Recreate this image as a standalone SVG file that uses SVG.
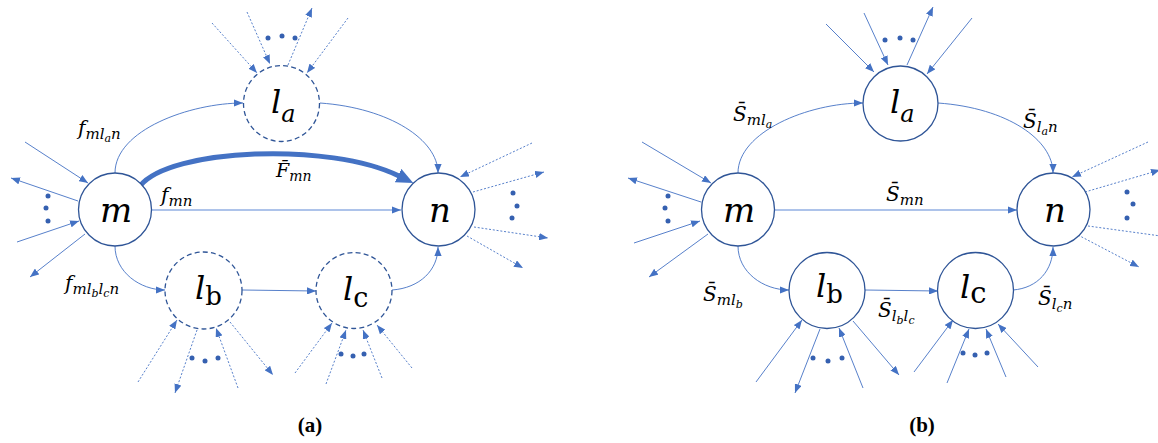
<svg xmlns="http://www.w3.org/2000/svg" width="1158" height="443" viewBox="0 0 1158 443">
<style>
.bg{fill:#fff}
.nc{fill:#fff;stroke:#2f5597;stroke-width:1.3}
.dc{fill:#fff;stroke:#2f5597;stroke-width:1.3;stroke-dasharray:5 3.2}
.c{fill:none;stroke:#4472c4;stroke-width:0.9;marker-end:url(#ah)}
.d{fill:none;stroke:#4472c4;stroke-width:0.9;stroke-dasharray:2 1.8;marker-end:url(#ah)}
.light{fill:none;stroke:#adc3ea;stroke-width:2;marker-end:url(#ah)}
.thick{fill:none;stroke:#4472c4;stroke-width:5;marker-end:url(#big)}
.m{font-family:"DejaVu Serif","Liberation Serif",serif;font-style:italic;fill:#000}
.r{font-style:normal}
.cap{font-family:"Liberation Serif",serif;font-weight:bold;font-size:21px;fill:#000;text-anchor:middle}
.dot{fill:#3560b0}
</style>
<defs>
<marker id="ah" viewBox="0 0 10 8" refX="10" refY="4" markerWidth="9" markerHeight="7.2" markerUnits="userSpaceOnUse" orient="auto"><path d="M0,0 L10,4 L0,8 z" fill="#4472c4"/></marker>
<marker id="big" viewBox="0 0 16 14" refX="1" refY="7" markerWidth="17" markerHeight="15" markerUnits="userSpaceOnUse" orient="auto"><path d="M0,0 L16,7 L0,14 z" fill="#4472c4"/></marker>
</defs>
<rect class="bg" width="1158" height="443"/>

<g id="connectors">
<path class="c" d="M115,173 C115,130 190,103 243,103"/>
<path class="c" d="M320,103 C390,108 438,140 438,173"/>
<path class="light" d="M152,210 L401,210"/>
<path class="thick" d="M140,186 C170,148 330,142 399,176"/>
<path class="c" d="M115,246 C115,272 140,290 165,290"/>
<path class="c" d="M242,290 L316,291"/>
<path class="c" d="M392,290 C420,288 438,270 438,247"/>
<path class="c" d="M25,142 L88,183"/>
<path class="c" d="M78,201 L11,178"/>
<path class="c" d="M17,242 L79,221"/>
<path class="c" d="M85,234 L30,277"/>
<path class="d" d="M212,23 L257,73"/>
<path class="d" d="M247,12 L270,64"/>
<path class="d" d="M288,65 L312,8"/>
<path class="d" d="M348,18 L307,73"/>
<path class="d" d="M532,143 L460,177"/>
<path class="d" d="M473,192 L544,172"/>
<path class="d" d="M474,227 L548,238"/>
<path class="d" d="M467,236 L523,268"/>
<path class="d" d="M138,382 L177,320"/>
<path class="d" d="M197,330 L175,393"/>
<path class="d" d="M238,388 L216,328"/>
<path class="d" d="M230,322 L273,375"/>
<path class="d" d="M295,373 L332,323"/>
<path class="d" d="M326,384 L346,330"/>
<path class="d" d="M382,378 L363,330"/>
<path class="d" d="M412,368 L377,325"/>
<path class="c" d="M738,173 C738,132 808,103 863,103"/>
<path class="c" d="M938,103 C1008,108 1053,140 1053,173"/>
<path class="light" d="M774,210 L1017,210"/>
<path class="c" d="M738,246 C738,272 763,290 789,290"/>
<path class="c" d="M865,290 L938,291"/>
<path class="c" d="M1013,290 C1038,288 1053,270 1053,247"/>
<path class="c" d="M642,142 L711,183"/>
<path class="c" d="M701,202 L628,178"/>
<path class="c" d="M634,243 L700,221"/>
<path class="c" d="M708,234 L649,277"/>
<path class="c" d="M826,24 L874,72"/>
<path class="c" d="M864,13 L888,65"/>
<path class="c" d="M907,65 L933,7"/>
<path class="c" d="M972,18 L927,74"/>
<path class="d" d="M1148,142 L1072,177"/>
<path class="d" d="M1085,192 L1160,170"/>
<path class="d" d="M1088,226 L1168,237"/>
<path class="d" d="M1078,235 L1139,267"/>
<path class="c" d="M756,382 L802,320"/>
<path class="c" d="M820,329 L795,393"/>
<path class="c" d="M863,388 L839,328"/>
<path class="c" d="M853,321 L899,375"/>
<path class="c" d="M914,372 L953,320"/>
<path class="c" d="M947,383 L969,329"/>
<path class="c" d="M1006,377 L986,329"/>
<path class="c" d="M1038,367 L998,324"/>
</g>

<g id="ellipses">
<circle class="dot" cx="48" cy="196" r="2.5"/><circle class="dot" cx="46" cy="208" r="2.5"/><circle class="dot" cx="48" cy="221" r="2.5"/>
<circle class="dot" cx="268" cy="38" r="2.5"/><circle class="dot" cx="282" cy="36" r="2.5"/><circle class="dot" cx="295" cy="38" r="2.5"/>
<circle class="dot" cx="513" cy="193" r="2.5"/><circle class="dot" cx="517" cy="206" r="2.5"/><circle class="dot" cx="512" cy="218" r="2.5"/>
<circle class="dot" cx="192" cy="358" r="2.5"/><circle class="dot" cx="205" cy="361" r="2.5"/><circle class="dot" cx="218" cy="358" r="2.5"/>
<circle class="dot" cx="341" cy="354" r="2.5"/><circle class="dot" cx="353" cy="356" r="2.5"/><circle class="dot" cx="364" cy="354" r="2.5"/>
<circle class="dot" cx="668" cy="196" r="2.5"/><circle class="dot" cx="665" cy="208" r="2.5"/><circle class="dot" cx="668" cy="221" r="2.5"/>
<circle class="dot" cx="885" cy="40" r="2.5"/><circle class="dot" cx="900" cy="38" r="2.5"/><circle class="dot" cx="913" cy="40" r="2.5"/>
<circle class="dot" cx="1127" cy="192" r="2.5"/><circle class="dot" cx="1133" cy="204" r="2.5"/><circle class="dot" cx="1127" cy="218" r="2.5"/>
<circle class="dot" cx="813" cy="358" r="2.5"/><circle class="dot" cx="828" cy="361" r="2.5"/><circle class="dot" cx="842" cy="358" r="2.5"/>
<circle class="dot" cx="963" cy="353" r="2.5"/><circle class="dot" cx="975" cy="355" r="2.5"/><circle class="dot" cx="987" cy="353" r="2.5"/>
</g>

<g id="a-m"><circle class="nc" cx="115" cy="209.5" r="36.5"/><text class="m" x="116" y="222" font-size="34" text-anchor="middle">m</text></g>
<g id="a-la"><circle class="dc" cx="281.5" cy="103.5" r="38"/><text class="m" x="271" y="113" font-size="32">l<tspan font-size="24" dy="9">a</tspan></text></g>
<g id="a-n"><circle class="nc" cx="438.5" cy="209.5" r="36.5"/><text class="m" x="440" y="222" font-size="34" text-anchor="middle">n</text></g>
<g id="a-lb"><circle class="dc" cx="203.5" cy="290.5" r="38.5"/><text class="m" x="195" y="299" font-size="32">l<tspan class="r" font-size="26" dy="6">b</tspan></text></g>
<g id="a-lc"><circle class="dc" cx="354" cy="290.5" r="38"/><text class="m" x="343" y="300" font-size="32">l<tspan class="r" font-size="27" dy="7">c</tspan></text></g>

<g id="a-labels">
<text class="m" x="78" y="135" font-size="20">f<tspan font-size="15" dy="4">ml</tspan><tspan font-size="11" dy="3">a</tspan><tspan font-size="15" dy="-3">n</tspan></text>
<text class="m" x="276" y="177" font-size="19">F&#x304;<tspan font-size="14" dy="4">mn</tspan></text>
<text class="m" x="161" y="202" font-size="20">f<tspan font-size="15" dy="4">mn</tspan></text>
<text class="m" x="65" y="290" font-size="20">f<tspan font-size="15" dy="4">ml</tspan><tspan font-size="11" dy="3">b</tspan><tspan font-size="15" dy="-3">l</tspan><tspan font-size="11" dy="3">c</tspan><tspan font-size="15" dy="-3">n</tspan></text>
</g>

<g id="b-m"><circle class="nc" cx="738" cy="209.5" r="36.5"/><text class="m" x="739" y="222" font-size="34" text-anchor="middle">m</text></g>
<g id="b-la"><circle class="nc" cx="900.5" cy="103.5" r="37.5"/><text class="m" x="890" y="113" font-size="32">l<tspan font-size="24" dy="9">a</tspan></text></g>
<g id="b-n"><circle class="nc" cx="1053.5" cy="209.5" r="36.5"/><text class="m" x="1055" y="222" font-size="34" text-anchor="middle">n</text></g>
<g id="b-lb"><circle class="nc" cx="827" cy="290.5" r="38"/><text class="m" x="816" y="297" font-size="32">l<tspan class="r" font-size="26" dy="6">b</tspan></text></g>
<g id="b-lc"><circle class="nc" cx="975.5" cy="290.5" r="38"/><text class="m" x="960" y="298" font-size="32">l<tspan class="r" font-size="29" dy="5">c</tspan></text></g>

<g id="b-labels">
<text class="m" x="733" y="121" font-size="20">S&#x304;<tspan font-size="15" dy="4">ml</tspan><tspan font-size="11" dy="3">a</tspan></text>
<text class="m" x="1023" y="128" font-size="20">S&#x304;<tspan font-size="15" dy="4">l</tspan><tspan font-size="11" dy="3">a</tspan><tspan font-size="15" dy="-3">n</tspan></text>
<text class="m" x="886" y="201" font-size="20">S&#x304;<tspan font-size="15" dy="4">mn</tspan></text>
<text class="m" x="703" y="301" font-size="20">S&#x304;<tspan font-size="15" dy="4">ml</tspan><tspan font-size="11" dy="3">b</tspan></text>
<text class="m" x="878" y="317" font-size="20">S&#x304;<tspan font-size="15" dy="4">l</tspan><tspan font-size="11" dy="3">b</tspan><tspan font-size="15" dy="-3">l</tspan><tspan font-size="11" dy="3">c</tspan></text>
<text class="m" x="1038" y="305" font-size="20">S&#x304;<tspan font-size="15" dy="4">l</tspan><tspan font-size="11" dy="3">c</tspan><tspan font-size="15" dy="-3">n</tspan></text>
</g>

<text class="cap" x="310" y="432">(a)</text>
<text class="cap" x="922" y="432">(b)</text>
</svg>
